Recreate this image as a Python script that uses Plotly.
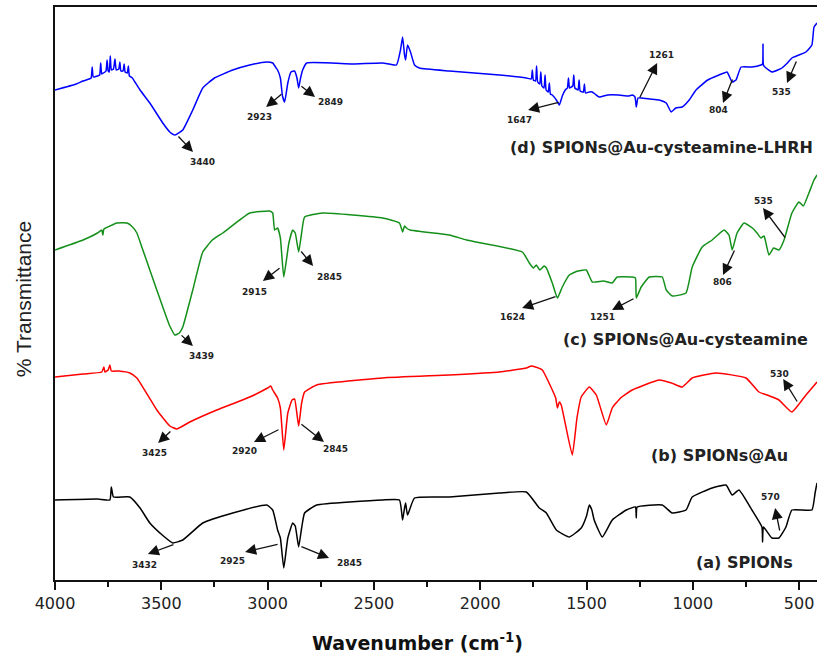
import plotly.graph_objects as go

# ---------------- data (wavenumber cm^-1, transmittance in arbitrary offset units) ----------------
wn_a = [4000, 3800, 3742, 3735, 3725, 3648, 3600, 3554, 3490, 3446, 3399, 3305, 3164, 3004, 2976, 2953,
        2940, 2924, 2905, 2882, 2870, 2854, 2840, 2826, 2769, 2459, 2380, 2365, 2356, 2351, 2342, 2309,
        2145, 1910, 1783, 1722, 1689, 1642, 1581, 1525, 1500, 1487, 1475, 1464, 1426, 1379, 1313, 1270,
        1266, 1262, 1144, 1097, 1032, 1003, 909, 844, 815, 783, 722, 675, 672, 668, 628, 595, 562, 534,
        440, 425, 416]
t_a = [78, 79, 78, 91, 81, 81, 70, 55, 42, 35, 38, 55, 65, 73, 68, 48,
       40, 10, 40, 55, 52, 31, 50, 65, 73, 78, 78, 58, 70, 75, 63, 80,
       81, 85, 86, 70, 65, 48, 41, 50, 62, 73, 68, 58, 41, 58, 68, 71,
       60, 71, 73, 65, 68, 81, 90, 93, 83, 88, 68, 51, 36, 51, 40, 40, 51, 68,
       68, 85, 95]

wn_b = [4000, 3868, 3780, 3770, 3765, 3750, 3742, 3735, 3700, 3648, 3615, 3521, 3460, 3427, 3366, 3239,
        3084, 3000, 2985, 2976, 2953, 2940, 2924, 2905, 2885, 2873, 2854, 2840, 2826, 2769, 2459, 2145,
        1910, 1783, 1760, 1740, 1708, 1661, 1645, 1637, 1628, 1619, 1567, 1545, 1525, 1487, 1454, 1407,
        1379, 1340, 1285, 1158, 1100, 1050, 1003, 891, 750, 689, 651, 595, 534, 468, 416]
t_b = [201, 204, 206, 211, 206, 208, 213, 207, 207, 205, 200, 168, 152, 149, 156, 168,
       181, 190, 192, 188, 180, 170, 128, 165, 178, 179, 152, 175, 186, 193, 200, 203,
       206, 210, 212, 211, 208, 188, 180, 170, 176, 173, 123, 160, 181, 191, 183, 153,
       170, 180, 188, 198, 195, 191, 200, 205, 200, 186, 183, 178, 166, 183, 196]

wn_c = [4000, 3868, 3800, 3780, 3775, 3770, 3742, 3709, 3662, 3640, 3615, 3590, 3554, 3493, 3460, 3436,
        3415, 3399, 3352, 3305, 3260, 3211, 3084, 2990, 2976, 2967, 2953, 2940, 2924, 2900, 2882, 2870,
        2854, 2840, 2826, 2741, 2459, 2380, 2365, 2356, 2347, 2330, 2145, 2065, 1802, 1769, 1750, 1736,
        1720, 1700, 1689, 1661, 1637, 1614, 1581, 1540, 1501, 1473, 1420, 1379, 1356, 1285, 1270, 1266,
        1243, 1205, 1144, 1125, 1097, 1032, 1003, 956, 909, 853, 830, 815, 792, 759, 720, 698, 680, 665,
        656, 642, 620, 595, 571, 534, 501, 480, 454, 430, 416]
t_c = [328, 338, 345, 348, 343, 349, 352, 355, 355, 352, 345, 330, 308, 271, 252, 243,
       245, 251, 288, 326, 338, 345, 365, 367, 365, 348, 350, 340, 301, 335, 348, 345,
       326, 345, 361, 365, 360, 355, 346, 352, 350, 348, 343, 338, 326, 315, 310, 313,
       308, 312, 310, 295, 280, 291, 303, 307, 308, 296, 297, 295, 301, 301, 300, 280,
       291, 301, 301, 288, 282, 285, 311, 331, 338, 348, 343, 328, 345, 355, 350, 345, 340, 342,
       335, 323, 330, 328, 338, 365, 376, 372, 385, 398, 403]

wn_d = [4000, 3900, 3868, 3840, 3830, 3825, 3820, 3800, 3790, 3785, 3780, 3765, 3760, 3755, 3750, 3745,
        3740, 3735, 3725, 3718, 3712, 3700, 3695, 3690, 3680, 3675, 3670, 3660, 3655, 3650, 3636, 3624,
        3600, 3554, 3493, 3460, 3436, 3399, 3352, 3305, 3250, 3164, 3084, 3004, 2976, 2960, 2953, 2940,
        2930, 2920, 2905, 2890, 2873, 2862, 2854, 2845, 2835, 2816, 2600, 2459, 2394, 2375, 2365, 2356,
        2351, 2342, 2328, 2309, 2286, 2145, 1910, 1783, 1760, 1755, 1750, 1740, 1735, 1730, 1720, 1715,
        1710, 1700, 1695, 1690, 1680, 1675, 1670, 1661, 1642, 1628, 1614, 1600, 1590, 1585, 1580, 1565,
        1560, 1555, 1540, 1535, 1530, 1515, 1510, 1505, 1487, 1473, 1460, 1440, 1400, 1350, 1300, 1285,
        1272, 1266, 1258, 1243, 1200, 1158, 1125, 1102, 1080, 1050, 1017, 985, 930, 877, 839, 825,
        815, 797, 773, 722, 680, 672, 670, 668, 656, 628, 600, 581, 560, 534, 501, 468, 440, 430, 416]
t_d = [488, 494, 497, 499, 500, 511, 501, 502, 503, 515, 504, 506, 507, 518, 507, 506,
       522, 508, 509, 519, 508, 509, 516, 507, 507, 514, 506, 505, 512, 502, 500, 496,
       488, 475, 455, 446, 443, 448, 468, 490, 500, 508, 513, 516, 515, 510, 508, 500,
       482, 476, 495, 506, 507, 500, 490, 500, 508, 515, 514, 515, 513, 528, 541, 523,
       518, 533, 526, 513, 510, 507, 503, 500, 499, 508, 498, 497, 512, 496, 494, 506,
       492, 490, 503, 488, 486, 495, 484, 483, 478, 473, 482, 488, 490, 500, 490, 492,
       503, 490, 488, 498, 487, 486, 494, 485, 486, 486, 484, 481, 483, 483, 482, 483,
       481, 471, 480, 480, 479, 478, 475, 466, 470, 471, 478, 488, 498, 503, 506, 500,
       496, 498, 511, 511, 513, 514, 534, 513, 510, 506, 508, 510, 514, 520, 523, 526, 533, 551, 555]

series = [
    ("(a) SPIONs", wn_a, t_a, "#000000"),
    ("(b) SPIONs@Au", wn_b, t_b, "#ff0000"),
    ("(c) SPIONs@Au-cysteamine", wn_c, t_c, "#14901a"),
    ("(d) SPIONs@Au-cysteamine-LHRH", wn_d, t_d, "#0000ff"),
]

# curve name labels: (text, right-end wavenumber, level)
curve_labels = [
    ("(a) SPIONs", 519, 16),
    ("(b) SPIONs@Au", 543, 123),
    ("(c) SPIONs@Au-cysteamine", 448, 239),
    ("(d) SPIONs@Au-cysteamine-LHRH", 425, 431),
]

# peak labels: (text, tail wn, tail T, head wn, head T, text wn, text T)
peak_labels = [
    ("3440", 3426, 443, 3351, 426, 3304, 416),
    ("2923", 2928, 485, 3007, 471, 3040, 461),
    ("2849", 2848, 493, 2777, 481, 2702, 476),
    ("1647", 1624, 476, 1775, 468, 1817, 458),
    ("1261", 1253, 479, 1168, 515, 1149, 523),
    ("804", 811, 500, 858, 475, 881, 468),
    ("535", 510, 518, 557, 495, 585, 486),
    ("3439", 3412, 244, 3351, 232, 3313, 222),
    ("2915", 2937, 311, 3022, 297, 3064, 286),
    ("2845", 2848, 328, 2786, 312, 2711, 301),
    ("1624", 1639, 282, 1803, 270, 1850, 261),
    ("1251", 1272, 280, 1380, 268, 1427, 261),
    ("806", 801, 329, 858, 303, 862, 296),
    ("535", 561, 339, 670, 370, 670, 377),
    ("3425", 3450, 148, 3515, 135, 3530, 125),
    ("2920", 2942, 149, 3064, 136, 3111, 127),
    ("2845", 2848, 155, 2735, 136, 2683, 129),
    ("530", 505, 175, 575, 199, 594, 204),
    ("3432", 3436, 34, 3563, 24, 3577, 13),
    ("2925", 2946, 34, 3106, 26, 3163, 17),
    ("2845", 2848, 32, 2711, 20, 2617, 15),
    ("570", 590, 46, 613, 70, 637, 81),
]

x_ticks = [4000, 3500, 3000, 2500, 2000, 1500, 1000, 500]
x_minor = [3750, 3250, 2750, 2250, 1750, 1250, 750]

fig = go.Figure()
for name, x, y, col in series:
    fig.add_trace(go.Scatter(x=x, y=y, mode="lines", name=name,
                             line=dict(color=col, width=1.5, shape="spline", smoothing=0.4),
                             showlegend=False))

ann = []
for text, tx, ty, hx, hy, lx, ly in peak_labels:
    ann.append(dict(x=hx, y=hy, ax=tx, ay=ty, xref="x", yref="y", axref="x", ayref="y",
                    text="", showarrow=True, arrowhead=2, arrowsize=1.7, arrowwidth=1.3,
                    arrowcolor="#111111", standoff=0, startstandoff=0))
    ann.append(dict(x=lx, y=ly, xref="x", yref="y", text=f"<b>{text}</b>", showarrow=False,
                    font=dict(family="DejaVu Sans", size=9, color="#222222")))
for text, rx, ly in curve_labels:
    ann.append(dict(x=rx, y=ly, xref="x", yref="y", text=f"<b>{text}</b>", showarrow=False,
                    xanchor="right", yanchor="middle",
                    font=dict(family="DejaVu Sans", size=16, color="#222222")))
ann.append(dict(x=-0.042, y=0.49, xref="paper", yref="paper", text="% Transmittance",
                textangle=-90, showarrow=False, xanchor="center", yanchor="middle",
                font=dict(family="Liberation Sans", size=21, color="#222222")))
ann.append(dict(x=0.476, y=-0.108, xref="paper", yref="paper",
                text="<b>Wavenumber (cm<sup>-1</sup>)</b>", showarrow=False,
                xanchor="center", yanchor="middle",
                font=dict(family="DejaVu Sans", size=19, color="#111111")))

fig.update_layout(
    width=817, height=658,
    margin=dict(l=55, r=0, t=7, b=78),
    paper_bgcolor="white", plot_bgcolor="white",
    annotations=ann,
    xaxis=dict(range=[4000, 416], tickvals=x_ticks, ticktext=[str(v) for v in x_ticks],
               ticks="outside", ticklen=8, tickwidth=2, tickcolor="#111111",
               showline=True, linecolor="#111111", linewidth=2, mirror=True,
               showgrid=False, zeroline=False,
               tickfont=dict(family="DejaVu Sans", size=16, color="#222222"),
               minor=dict(tickvals=x_minor,
                          ticks="outside", ticklen=5, tickwidth=2, tickcolor="#111111")),
    yaxis=dict(range=[-2, 571], showticklabels=False, ticks="", showline=True,
               linecolor="#111111", linewidth=2, mirror=False, showgrid=False, zeroline=False),
)

fig.write_html("out.html", config={"displayModeBar": False},
               post_script="document.body.style.margin='0px';document.body.style.overflow='hidden';")
